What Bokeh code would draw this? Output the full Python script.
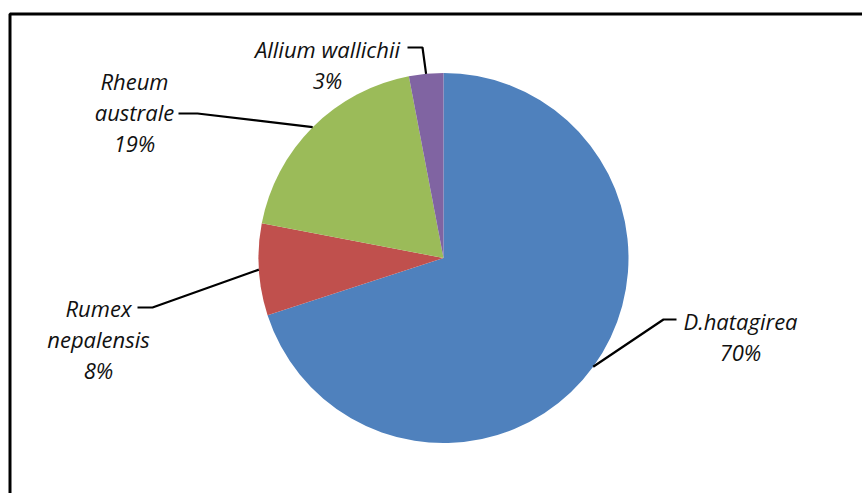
import math
from bokeh.plotting import figure
from bokeh.models import Range1d, BoxAnnotation, ColumnDataSource
from bokeh.core.properties import value
from bokeh.embed import file_html
from bokeh.resources import INLINE

# Share of each species (percent), drawn clockwise from 12 o'clock
species = ["D.hatagirea", "Rumex nepalensis", "Rheum australe", "Allium wallichii"]
shares = [70, 8, 19, 3]
label_lines = [["D.hatagirea", "70%"],
               ["Rumex", "nepalensis", "8%"],
               ["Rheum", "australe", "19%"],
               ["Allium wallichii", "3%"]]
colors = ["#4F81BD", "#C0504D", "#9BBB59", "#8064A2"]

W, H = 862, 493


def sy(y):
    """screen-style y (down) to plot y (up)"""
    return H - y


cx, cy, r = 443, sy(257.5), 185

# label layout: centre x, first baseline (screen y), leader start and elbow
lab_x = [740, 98, 134, 327]
lab_y = [320, 307, 80, 48]
lead_start = [(676, 319), (137, 307), (178, 113), (407, 47)]
lead_elbow = [(663, 319), (152, 307), (197, 113), (422, 47)]
line_gap = 31

p = figure(width=W, height=H, output_backend="svg", toolbar_location=None,
           x_range=Range1d(0, W), y_range=Range1d(0, H),
           min_border=0, outline_line_color=None)
p.axis.visible = False
p.grid.visible = False
p.background_fill_color = "white"
p.border_fill_color = "white"

total = float(sum(shares))
starts, ends, mids = [], [], []
acc = 0.0
for s in shares:
    a0 = math.pi / 2 - 2 * math.pi * acc / total
    acc += s
    a1 = math.pi / 2 - 2 * math.pi * acc / total
    starts.append(a0)
    ends.append(a1)
    mids.append((a0 + a1) / 2)

src = ColumnDataSource(dict(start=starts, end=ends, color=colors, name=species))
p.wedge(x=cx, y=cy, radius=r, start_angle="start", end_angle="end",
        direction="clock", fill_color="color", line_color=None, source=src)

# leader lines from slice midpoints to the labels
xs, ys = [], []
for m, st, el in zip(mids, lead_start, lead_elbow):
    ax = cx + r * math.cos(m)
    ay = cy + r * math.sin(m)
    xs.append([st[0], el[0], ax])
    ys.append([sy(st[1]), sy(el[1]), ay])
p.multi_line(xs=xs, ys=ys, line_color="black", line_width=2.2)

tx, ty, tt = [], [], []
for lines, x0, y0 in zip(label_lines, lab_x, lab_y):
    for i, t in enumerate(lines):
        tx.append(x0)
        ty.append(sy(y0 + i * line_gap))
        tt.append(t)
p.text(x=tx, y=ty, text=tt, text_align="center", text_baseline="alphabetic",
       text_font=value("Open Sans"), text_font_style="italic",
       text_font_size="22px", text_color="#111111")

# chart frame (extends past the right and bottom edges)
p.add_layout(BoxAnnotation(left=9.5, right=W + 20, top=sy(13.5), bottom=-20,
                           fill_color=None, fill_alpha=0,
                           line_color="black", line_alpha=1.0, line_width=3))

open("out.html", "w").write(file_html(p, INLINE))
